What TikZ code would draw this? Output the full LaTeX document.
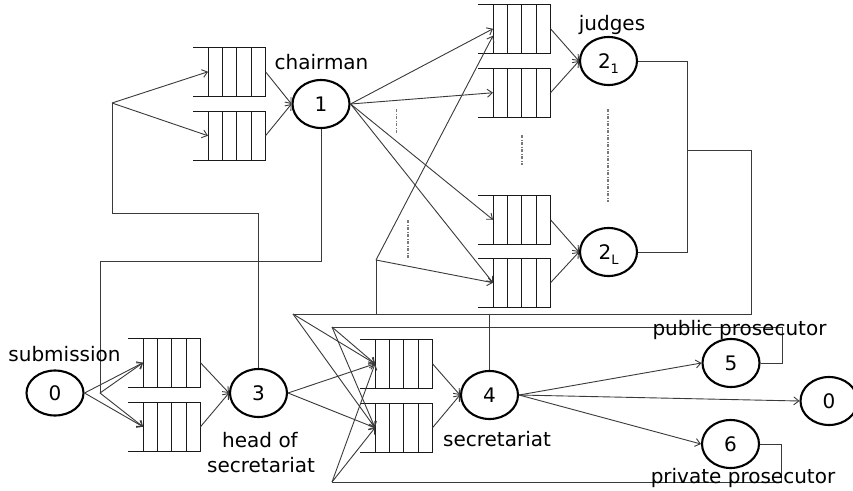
\documentclass[tikz,border=0pt]{standalone}
\usepackage{fontspec}
\setmainfont{DejaVu Sans}
\usetikzlibrary{shapes.geometric,arrows.meta}
\definecolor{wirec}{RGB}{58,58,58}
\definecolor{qcol}{RGB}{25,25,25}
\definecolor{dotc}{RGB}{120,120,120}
\newcommand{\subidx}[1]{\smash{\raisebox{-5pt}{\fontsize{13}{13}\selectfont #1}}}
\begin{document}
\begin{tikzpicture}[x=1pt,y=-1pt,
  wire/.style={draw=wirec,line width=0.9pt},
  arr/.style={-{Straight Barb[length=5pt,width=8pt]}},
  qline/.style={draw=qcol,line width=1pt},
  proc/.style={ellipse,draw=black,line width=2.1pt,minimum width=57pt,
    minimum height=48pt,inner sep=0pt,font=\fontsize{20}{24}\selectfont},
  lab/.style={inner sep=0pt,anchor=base,font=\fontsize{20}{24}\selectfont},
  dotl/.style={draw=dotc,line width=1.2pt,dash pattern=on 3pt off 1.5pt on 1pt off 1.5pt},
  queue/.pic={
    \draw[qline] (-15,0) -- (57.5,0) (-15,49.5) -- (57.5,49.5);
    \foreach \k in {0,...,4} \draw[qline] (\k*14.375,0) -- (\k*14.375,49.5);
    \coordinate (-in) at (0,24.75);
    \coordinate (-out) at (57.5,24.75);
  }]
\fill[white] (0,0) rectangle (853,490);
\useasboundingbox (0,0) rectangle (853,490);

% waiting queues (first cell wall at the given point)
\pic (qc1) at (208,47) {queue};
\pic (qc2) at (208,111) {queue};
\pic (qj1) at (493,4) {queue};
\pic (qj2) at (493,68) {queue};
\pic (qj3) at (493,195) {queue};
\pic (qj4) at (493,258) {queue};
\pic (qh1) at (143,338) {queue};
\pic (qh2) at (143,402) {queue};
\pic (qs1) at (375,339) {queue};
\pic (qs2) at (375,403) {queue};

% service stations
\node[proc,minimum height=45pt] (n0) at (55,393) {0};
\node[proc] (n3) at (258.5,393) {3};
\node[proc] (n1) at (321,104) {1};
\node[proc] (n21) at (608.5,61) {2\subidx{1}};
\node[proc] (n2L) at (608.5,252) {2\subidx{L}};
\node[proc] (n4) at (489.5,395) {4};
\node[proc] (n5) at (731,363) {5};
\node[proc] (n0r) at (829,401) {0};
\node[proc] (n6) at (730.5,444) {6};

% branch and corner points
\coordinate (bA) at (112,103);
\coordinate (kA) at (112,213);
\coordinate (bB) at (100,393);
\coordinate (kB) at (100,261);
\coordinate (jbus) at (687,150);
\coordinate (jR) at (751,150);
\coordinate (bD) at (293,314);
\coordinate (bC) at (376,260);
\coordinate (bE) at (332,327);
\coordinate (bF) at (332,482);
\coordinate (k5) at (782,327);
\coordinate (k6) at (781,482);

% head of secretariat -> chairman queues
\draw[wire] (n3.north) -- (n3.north |- kA) -- (kA) -- (bA);
\draw[wire,arr] (bA) -- (qc1-in);
\draw[wire,arr] (bA) -- (qc2-in);
\draw[wire,arr] (qc1-out) -- (n1.west);
\draw[wire,arr] (qc2-out) -- (n1.west);

% chairman -> head of secretariat queues
\draw[wire] (n1.south) -- (n1.south |- kB) -- (kB) -- (bB);
\draw[wire,arr] (bB) -- (qh1-in);
\draw[wire,arr] (bB) -- (qh2-in);
\draw[wire,arr] (n0.east) -- (qh1-in);
\draw[wire,arr] (n0.east) -- (qh2-in);
\draw[wire,arr] (qh1-out) -- (n3.west);
\draw[wire,arr] (qh2-out) -- (n3.west);

% chairman -> judges
\draw[wire,arr] (n1.east) -- (qj1-in);
\draw[wire,arr] (n1.east) -- (qj2-in);
\draw[wire,arr] (n1.east) -- (qj3-in);
\draw[wire,arr] (n1.east) -- (qj4-in);
\draw[wire,arr] (qj1-out) -- (n21.west);
\draw[wire,arr] (qj2-out) -- (n21.west);
\draw[wire,arr] (qj3-out) -- (n2L.west);
\draw[wire,arr] (qj4-out) -- (n2L.west);

% judges' output bus
\draw[wire] (n21.east) -- (n21.east -| jbus) -- (n2L.east -| jbus) -- (n2L.east);
\draw[wire] (jbus) -- (jR) -- (jR |- bD) -- (bD);
\draw[wire] (bC |- bD) -- (bC);
\draw[wire,arr] (bC) -- ([yshift=-7pt]qj1-in);
\draw[wire,arr] (bC) -- (qj4-in);
\draw[wire,arr] (bD) -- (qs1-in);
\draw[wire,arr] (bD) -- (qs2-in);
\draw[wire] (n4.north) -- (n4.north |- bD);

% prosecutors back to secretariat
\draw[wire] (n5.east) -| (k5) -- (bE);
\draw[wire] (n6.east) -| (k6) -- (bF);
\draw[wire,arr] (bE) -- (qs1-in);
\draw[wire,arr] (bE) -- (qs2-in);
\draw[wire,arr] (bF) -- (qs1-in);
\draw[wire,arr] (bF) -- (qs2-in);

% head of secretariat -> secretariat
\draw[wire,arr] (n3.east) -- (qs1-in);
\draw[wire,arr] (n3.east) -- (qs2-in);
\draw[wire,arr] (qs1-out) -- (n4.west);
\draw[wire,arr] (qs2-out) -- (n4.west);

% secretariat outputs
\draw[wire,arr] (n4.east) -- (n5.west);
\draw[wire,arr] (n4.east) -- (n0r.west);
\draw[wire,arr] (n4.east) -- (n6.west);

% ellipsis marks
\draw[dotl] (396.5,109) -- (396.5,134);
\draw[dotl] (522,135) -- (522,165);
\draw[dotl] (608,109) -- (608,202);
\draw[dotl] (408,220) -- (408,258);

% labels
\node[lab] (lchair) at (321.5,69) {chairman};
\node[lab] (ljudges) at (612,30) {judges};
\node[lab] (lsub) at (64.5,361) {submission};
\node[lab] (lhead1) at (260,447) {head of};
\node[lab] (lhead2) at (261,472) {secretariat};
\node[lab] (lsecr) at (497,446) {secretariat};
\node[lab] (lpub) at (739.5,335) {public prosecutor};
\node[lab] (lpriv) at (743,483) {private prosecutor};
\end{tikzpicture}
\end{document}
